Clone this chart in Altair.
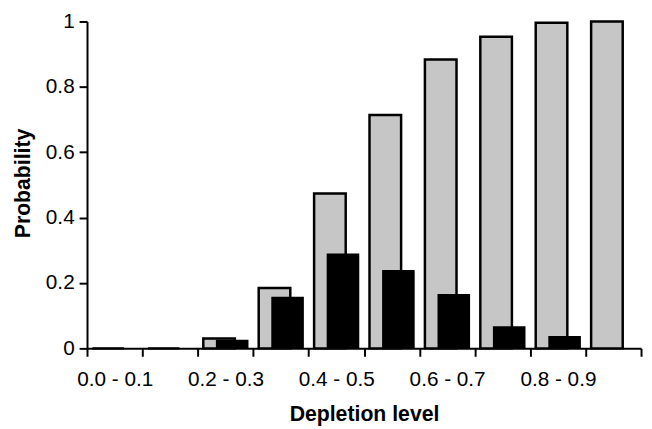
import altair as alt
import pandas as pd

categories = ["0.0 - 0.1", "0.1 - 0.2", "0.2 - 0.3", "0.3 - 0.4", "0.4 - 0.5",
              "0.5 - 0.6", "0.6 - 0.7", "0.7 - 0.8", "0.8 - 0.9", "0.9 - 1.0"]
grey_values = [0, 0, 0.03, 0.185, 0.474, 0.714, 0.884, 0.953, 0.996, 1.0]
black_values = [0, 0, 0.026, 0.158, 0.29, 0.24, 0.166, 0.068, 0.038, 0]
y_ticks = [0, 0.2, 0.4, 0.6, 0.8, 1]

df = pd.DataFrame({"level": categories, "grey": grey_values, "black": black_values})

FONT = "Liberation Sans"
PLOT_H = 331

x_enc = alt.X(
    "level:N", sort=categories, title="Depletion level",
    scale=alt.Scale(paddingInner=0, paddingOuter=0),
    axis=alt.Axis(
        tickBand="extent", labelAngle=0, labelOverlap=False, grid=False,
        labelExpr="indexof('02468', substring(datum.label, 2, 3)) >= 0 ? datum.label : ''",
        labelFont=FONT, labelFontSize=21, labelColor="black", labelPadding=13,
        tickSize=8, tickWidth=2, tickColor="black",
        domainWidth=2, domainColor="black",
        titleFont=FONT, titleFontSize=21.5, titleFontWeight="bold", titleColor="black",
        titleY=56, titleBaseline="top",
    ),
)

y_scale = alt.Scale(domain=[0, 1], nice=False)

base = alt.Chart(df).transform_fold(["grey", "black"], as_=["series", "value"])

grey = base.transform_filter(alt.datum.series == "grey").mark_bar(
    fill="#c6c6c6", stroke="black", strokeWidth=2.5, width=32, xOffset=-6.5
).encode(
    x=x_enc,
    y=alt.Y(
        "value:Q", scale=y_scale, title="Probability",
        axis=alt.Axis(
            values=y_ticks, format="~g", grid=False,
            labelFont=FONT, labelFontSize=21, labelColor="black", labelPadding=5,
            tickSize=8, tickWidth=2, tickColor="black",
            domainWidth=2, domainColor="black",
            titleFont=FONT, titleFontSize=21.5, titleFontWeight="bold", titleColor="black",
            titleX=-64, titleY=PLOT_H / 2 - 2, titleAngle=270, titleAlign="center",
            titleBaseline="middle",
        ),
    ),
)

black = base.transform_filter(alt.datum.series == "black").mark_bar(
    color="black", width=33, xOffset=6.75
).encode(
    x=x_enc,
    y=alt.Y("value:Q", scale=y_scale, title="Probability"),
)

chart = alt.layer(grey, black).properties(
    width=561, height=PLOT_H,
    autosize=alt.AutoSizeParams(type="none"),
    padding={"left": 80, "top": 11, "right": 3, "bottom": 79},
    background="white",
).configure_view(stroke=None)

chart.save("out.html", embed_options={"renderer": "svg", "actions": False})
